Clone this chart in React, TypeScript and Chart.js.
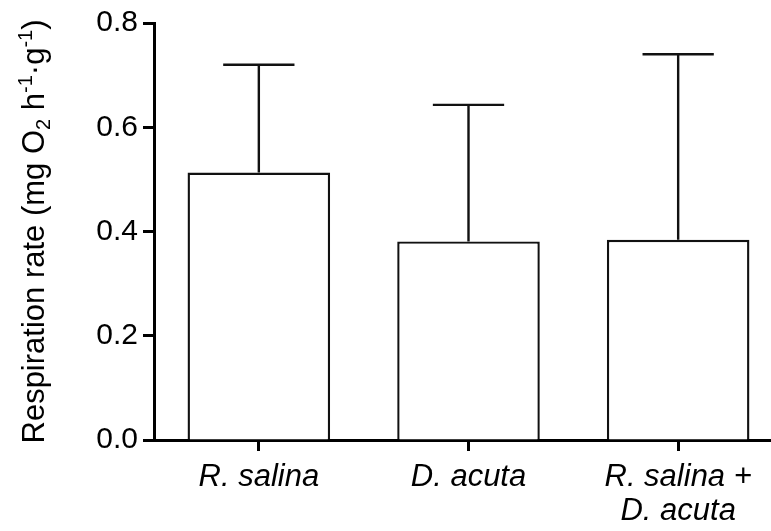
import React, { useEffect, useRef } from 'react';
import { Chart, registerables } from 'chart.js';

Chart.register(...registerables);

const categories: string[][] = [['R. salina'], ['D. acuta'], ['R. salina +', 'D. acuta']];
const means: number[] = [0.513, 0.381, 0.384];
const upperBars: number[] = [0.72, 0.643, 0.74];
const yTickValues: number[] = [0, 0.2, 0.4, 0.6, 0.8];
const titleParts = [
  { text: 'Respiration rate (mg O', kind: 'n' },
  { text: '2', kind: 'sub' },
  { text: ' h', kind: 'n' },
  { text: '-1', kind: 'sup' },
  { text: '·g', kind: 'n' },
  { text: '-1', kind: 'sup' },
  { text: ')', kind: 'n' },
];

const FONT = '"Liberation Sans", Arial, Helvetica, sans-serif';
const TITLE_FS = 31;
const TICK_FS = 30;
const XLABEL_FS = 31;

const errorBarPlugin = {
  id: 'errorBars',
  afterDatasetsDraw(chart: any) {
    const ctx = chart.ctx;
    const meta = chart.getDatasetMeta(0);
    const yScale = chart.scales.y;
    ctx.save();
    ctx.strokeStyle = '#111';
    ctx.lineWidth = 2.4;
    meta.data.forEach((bar: any, i: number) => {
      const x = bar.x;
      const yTop = yScale.getPixelForValue(upperBars[i]);
      const yStart = bar.y;
      const half = bar.width / 4;
      ctx.beginPath();
      ctx.moveTo(x, yStart);
      ctx.lineTo(x, yTop);
      ctx.moveTo(x - half, yTop);
      ctx.lineTo(x + half, yTop);
      ctx.stroke();
    });
    ctx.restore();
  },
};

const titlePlugin = {
  id: 'richYTitle',
  afterDraw(chart: any) {
    const ctx = chart.ctx;
    const area = chart.chartArea;
    const cy = (area.top + area.bottom) / 2;
    const small = Math.round(TITLE_FS * 0.64);
    ctx.save();
    ctx.fillStyle = '#000';
    ctx.textBaseline = 'alphabetic';
    ctx.textAlign = 'left';
    const fontFor = (k: string) => `${k === 'n' ? TITLE_FS : small}px ${FONT}`;
    let total = 0;
    titleParts.forEach((p) => {
      ctx.font = fontFor(p.kind);
      total += ctx.measureText(p.text).width;
    });
    ctx.translate(44, cy);
    ctx.rotate(-Math.PI / 2);
    let x = -total / 2;
    titleParts.forEach((p) => {
      ctx.font = fontFor(p.kind);
      const dy = p.kind === 'sup' ? -TITLE_FS * 0.4 : p.kind === 'sub' ? TITLE_FS * 0.18 : 0;
      ctx.fillText(p.text, x, dy);
      x += ctx.measureText(p.text).width;
    });
    ctx.restore();
  },
};

export default function App() {
  const ref = useRef<HTMLCanvasElement | null>(null);

  useEffect(() => {
    if (!ref.current) return;
    const chart = new Chart(ref.current, {
      type: 'bar',
      data: {
        labels: categories as any,
        datasets: [
          {
            data: means,
            backgroundColor: '#ffffff',
            borderColor: '#111',
            borderWidth: 2.4,
            barPercentage: 0.68,
            categoryPercentage: 1,
          },
        ],
      },
      options: {
        animation: false,
        responsive: false,
        devicePixelRatio: 1,
        layout: { padding: { top: 20, left: 0, right: 0, bottom: 0 } },
        plugins: {
          legend: { display: false },
          tooltip: { enabled: false },
        },
        scales: {
          x: {
            offset: true,
            grid: {
              display: true,
              drawOnChartArea: false,
              drawTicks: true,
              tickLength: 11,
              tickWidth: 3,
              tickColor: '#000',
              offset: false,
            },
            border: { display: true, color: '#000', width: 3 },
            ticks: {
              color: '#000',
              padding: 9,
              maxRotation: 0,
              autoSkip: false,
              font: { family: FONT, size: XLABEL_FS, style: 'italic', lineHeight: 1.1 },
            },
            afterFit(scale: any) {
              scale.height = 91;
            },
          },
          y: {
            min: 0,
            max: 0.8,
            afterBuildTicks(scale: any) {
              scale.ticks = yTickValues.map((v) => ({ value: v }));
            },
            grid: {
              display: true,
              drawOnChartArea: false,
              drawTicks: true,
              tickLength: 11,
              tickWidth: 3,
              tickColor: '#000',
            },
            border: { display: true, color: '#000', width: 3 },
            ticks: {
              color: '#000',
              padding: 5,
              font: { family: FONT, size: TICK_FS },
              callback: (v: any) => Number(v).toFixed(1),
            },
            afterFit(scale: any) {
              scale.width = 154;
            },
          },
        },
      },
      plugins: [errorBarPlugin, titlePlugin],
    });
    return () => chart.destroy();
  }, []);

  return (
    <div style={{ position: 'absolute', left: 0, top: 0, width: 771, height: 531, overflow: 'hidden', background: '#fff' }}>
      <canvas ref={ref} width={783} height={531} style={{ width: 783, height: 531, display: 'block' }} />
    </div>
  );
}
